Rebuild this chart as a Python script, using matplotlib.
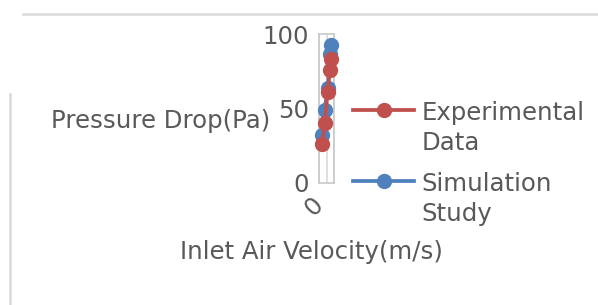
import matplotlib
matplotlib.use('Agg')
import matplotlib.pyplot as plt
from matplotlib.lines import Line2D
from matplotlib.legend_handler import HandlerLine2D

# values
velocity = [2.2, 3.7, 5.8, 7.3, 8.0]
experimental = [26, 40.5, 61, 76, 83]
simulation = [32.5, 49, 63.5, 86.5, 92.5]
series_names = ['Experimental\nData', 'Simulation\nStudy']

red = '#C0504D'
blue = '#4F81BD'
txt = '#595959'
grid = '#D9D9D9'
fs = 17.6

plt.rcParams['font.family'] = 'DejaVu Sans'


class TopHandler(HandlerLine2D):
    # put the marker next to the first line of a two-line label
    def create_artists(self, legend, orig_handle, xdescent, ydescent,
                       width, height, fontsize, trans):
        return super().create_artists(legend, orig_handle, xdescent,
                                      ydescent - 1.5 * fontsize, width,
                                      height, fontsize, trans)


fig = plt.figure(figsize=(5.98, 3.05), dpi=100)
ax = fig.add_axes([319 / 598, 1 - 183 / 305, 15 / 598, 149 / 305])

sim_line, = ax.plot(velocity, simulation, color=blue, lw=2.7, marker='o',
                    markersize=10, clip_on=False, zorder=3)
exp_line, = ax.plot(velocity, experimental, color=red, lw=2.7, marker='o',
                    markersize=10, clip_on=False, zorder=4)

ax.set_xlim(0, 10)
ax.set_ylim(0, 100)
ax.set_yticks([0, 50, 100])
ax.set_xticks([0, 5, 10])
ax.set_xticklabels(['0', '', ''], rotation=45, ha='right', va='center',
                   rotation_mode='anchor')
ax.tick_params(length=0, labelsize=fs, colors=txt)
ax.tick_params(axis='y', pad=7)
ax.tick_params(axis='x', pad=13)
ax.grid(axis='x', color=grid, lw=1.2)
ax.set_axisbelow(True)
for s in ax.spines.values():
    s.set_color('#C8C8C8')
    s.set_linewidth(1.2)

ax.set_ylabel('Pressure Drop(Pa)', rotation=0, ha='center', va='center',
              fontsize=fs, color=txt)
ax.yaxis.set_label_coords(161 / 598, 1 - 121 / 305, transform=fig.transFigure)
ax.set_xlabel('Inlet Air Velocity(m/s)', fontsize=fs, color=txt, va='center')
ax.xaxis.set_label_coords(311 / 598, 1 - 252 / 305, transform=fig.transFigure)

leg = fig.legend([exp_line, sim_line], series_names, loc='upper left',
                 bbox_to_anchor=(353 / 598, 1 - 101 / 305), frameon=False,
                 fontsize=fs, handlelength=2.5, handletextpad=0.3,
                 labelspacing=0.7, borderpad=0, borderaxespad=0,
                 handler_map={Line2D: TopHandler()})
for t in leg.get_texts():
    t.set_color(txt)
    t.set_linespacing(1.3)

# chart border fragments
fig.add_artist(Line2D([23 / 598, 1], [1 - 14 / 305] * 2, color=grid, lw=1.8))
fig.add_artist(Line2D([10 / 598] * 2, [0, 1 - 94 / 305], color=grid, lw=1.8))

fig.savefig('out.png', dpi=100)
